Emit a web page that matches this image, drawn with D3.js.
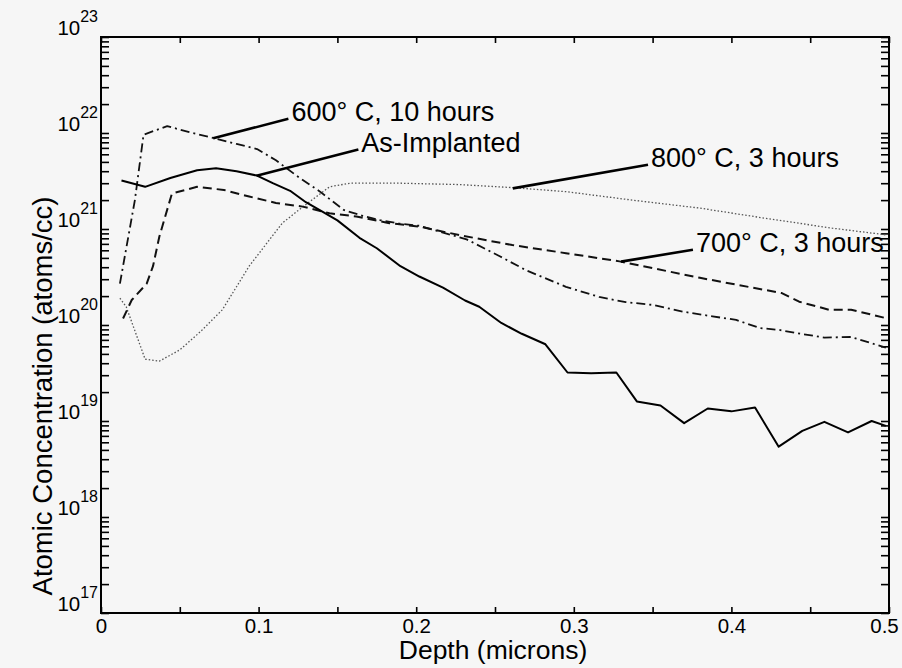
<!DOCTYPE html>
<html>
<head>
<meta charset="utf-8">
<script src="https://cdn.jsdelivr.net/npm/d3@7"></script>
<style>
	body { margin: 0; background: #f6f6f6; }
	svg { display: block; font-family: "Liberation Sans", Arial, sans-serif; }
</style>
</head>
<body>
<svg id="chart" width="902" height="668"></svg>
<script>
// depth in microns, concentration in atoms/cc
var asImplantedDepth = [0.013, 0.028, 0.044, 0.061, 0.073, 0.086, 0.099, 0.109, 0.120, 0.130, 0.141, 0.150, 0.164, 0.175, 0.190, 0.202, 0.217, 0.231, 0.240, 0.254, 0.267, 0.282, 0.296, 0.311, 0.327, 0.340, 0.355, 0.370, 0.385, 0.400, 0.415, 0.430, 0.445, 0.459, 0.474, 0.489, 0.498];
var asImplantedConc = [3.2e21, 2.75e21, 3.4e21, 4.1e21, 4.3e21, 4.0e21, 3.6e21, 3.0e21, 2.5e21, 1.9e21, 1.5e21, 1.23e21, 8.1e20, 6.3e20, 4.1e20, 3.2e20, 2.45e20, 1.8e20, 1.55e20, 1.05e20, 8.1e19, 6.3e19, 3.2e19, 3.15e19, 3.2e19, 1.6e19, 1.45e19, 9.5e18, 1.35e19, 1.26e19, 1.38e19, 5.4e18, 7.9e18, 9.8e18, 7.6e18, 1.0e19, 8.9e18];

var c600Depth = [0.012, 0.0215, 0.027, 0.042, 0.056, 0.071, 0.086, 0.099, 0.111, 0.124, 0.139, 0.154, 0.166, 0.177, 0.189, 0.202, 0.232, 0.253, 0.270, 0.295, 0.316, 0.333, 0.350, 0.369, 0.388, 0.403, 0.418, 0.430, 0.442, 0.459, 0.476, 0.498];
var c600Conc = [2.7e20, 2.0e21, 9.6e21, 1.18e22, 1.02e22, 8.9e21, 7.7e21, 6.8e21, 5.2e21, 3.6e21, 2.45e21, 1.58e21, 1.37e21, 1.24e21, 1.14e21, 1.08e21, 7.8e20, 5.2e20, 3.7e20, 2.5e20, 1.96e20, 1.73e20, 1.62e20, 1.38e20, 1.23e20, 1.13e20, 9.3e19, 8.9e19, 8.2e19, 7.4e19, 7.5e19, 5.8e19];

var c700Depth = [0.014, 0.0195, 0.029, 0.033, 0.037, 0.045, 0.061, 0.078, 0.094, 0.111, 0.128, 0.145, 0.162, 0.183, 0.202, 0.228, 0.261, 0.295, 0.329, 0.380, 0.432, 0.443, 0.462, 0.476, 0.498];
var c700Conc = [1.17e20, 1.82e20, 2.7e20, 4.1e20, 8.3e20, 2.34e21, 2.75e21, 2.55e21, 2.18e21, 1.87e21, 1.71e21, 1.46e21, 1.35e21, 1.15e21, 1.06e21, 8.6e20, 6.8e20, 5.6e20, 4.6e20, 3.1e20, 2.15e20, 1.75e20, 1.44e20, 1.44e20, 1.18e20];

var c800Depth = [0.012, 0.016, 0.028, 0.037, 0.050, 0.063, 0.077, 0.094, 0.115, 0.128, 0.145, 0.158, 0.190, 0.228, 0.261, 0.295, 0.337, 0.380, 0.422, 0.464, 0.498];
var c800Conc = [1.9e20, 1.55e20, 4.4e19, 4.2e19, 5.5e19, 8.5e19, 1.44e20, 4.1e20, 1.15e21, 1.7e21, 2.75e21, 3.0e21, 3.0e21, 2.9e21, 2.7e21, 2.45e21, 2.0e21, 1.65e21, 1.29e21, 1.02e21, 8.7e20];

// curve labels: where the leader touches the curve and where the text sits
var annotLabels = ['600\u00b0 C, 10 hours', 'As-Implanted', '800\u00b0 C, 3 hours', '700\u00b0 C, 3 hours'];
var annotPointDepth = [0.0712, 0.0987, 0.2613, 0.330];
var annotPointConc = [8.8e21, 3.59e21, 2.65e21, 4.57e20];
var annotTextDepth = [0.1208, 0.1652, 0.349, 0.3775];
var annotTextConc = [1.34e22, 6.4e21, 4.46e21, 5.8e20];

var xTickValues = [0, 0.05, 0.1, 0.15, 0.2, 0.25, 0.3, 0.35, 0.4, 0.45, 0.5];
var xTickLabels = {0: '0', 0.1: '0.1', 0.2: '0.2', 0.3: '0.3', 0.4: '0.4', 0.5: '0.5'};

var plot = { left: 101, right: 889, top: 37, bottom: 613 };

var x = d3.scaleLinear().domain([0, 0.5]).range([plot.left, plot.right]);
var y = d3.scaleLog().domain([1e17, 1e23]).range([plot.bottom, plot.top]);

var svg = d3.select('#chart');

// every log tick 1..9 in each decade
var yTickValues = [];
for (var e=17; e<23; e++) {
	for (var m=1; m<10; m++) yTickValues.push(m * Math.pow(10, e));
}
yTickValues.push(1e23);

function styleAxis(g) {
	g.select('.domain').remove();
	g.selectAll('line').attr('stroke', '#000').attr('stroke-width', 1.6);
}

svg.append('g')
	.attr('transform', 'translate(0,' + plot.bottom + ')')
	.call(d3.axisBottom(x).tickValues(xTickValues).tickSize(-6).tickPadding(5)
		.tickFormat(function(d) { return xTickLabels[d] || ''; }))
	.call(styleAxis)
	.selectAll('text')
		.attr('font-size', 20.5).attr('fill', '#000')
		.attr('dx', function(d) { return d === 0.5 ? -5 : 0; }); // keep last label inside the page

svg.append('g')
	.attr('transform', 'translate(0,' + plot.top + ')')
	.call(d3.axisTop(x).tickValues(xTickValues).tickSize(-6).tickFormat(''))
	.call(styleAxis);

svg.append('g')
	.attr('transform', 'translate(' + plot.right + ',0)')
	.call(d3.axisRight(y).tickValues(yTickValues).tickSize(-8).tickFormat(''))
	.call(styleAxis);

var left = svg.append('g')
	.attr('transform', 'translate(' + plot.left + ',0)')
	.call(d3.axisLeft(y).tickValues(yTickValues).tickSize(-8).tickPadding(3)
		.tickFormat(function(d) {
			var e = Math.round(Math.log10(d));
			return Math.abs(d - Math.pow(10, e)) < 1e-6 * d ? String(e) : '';
		}))
	.call(styleAxis);

left.selectAll('text').each(function() {
	var t = d3.select(this);
	var e = t.text();
	if (!e) return;
	t.text('').attr('dy', '-0.1em').attr('font-size', 20.5).attr('fill', '#000');
	t.append('tspan').text('10');
	t.append('tspan').attr('dy', -13).attr('font-size', 16).text(e);
});

// plot box
svg.append('rect')
	.attr('x', plot.left).attr('y', plot.top)
	.attr('width', plot.right - plot.left).attr('height', plot.bottom - plot.top)
	.attr('fill', 'none').attr('stroke', '#000').attr('stroke-width', 2);

var series = [
	{ depth: c800Depth, conc: c800Conc, dash: '1.5,2', width: 1.3, color: '#555' },
	{ depth: c700Depth, conc: c700Conc, dash: '9,5', width: 2, color: '#111' },
	{ depth: c600Depth, conc: c600Conc, dash: '9,4,2,4', width: 1.8, color: '#111' },
	{ depth: asImplantedDepth, conc: asImplantedConc, dash: null, width: 2, color: '#000' }
];

var line = d3.line()
	.x(function(d) { return x(d[0]); })
	.y(function(d) { return y(d[1]); });

series.forEach(function(s) {
	var pts = s.depth.map(function(dp, i) { return [dp, s.conc[i]]; });
	svg.append('path')
		.attr('d', line(pts))
		.attr('fill', 'none')
		.attr('stroke', s.color)
		.attr('stroke-width', s.width)
		.attr('stroke-dasharray', s.dash)
		.attr('stroke-linejoin', 'round');
});

// labels with leader lines
annotLabels.forEach(function(label, i) {
	var tx = x(annotTextDepth[i]), ty = y(annotTextConc[i]);
	svg.append('line')
		.attr('x1', x(annotPointDepth[i])).attr('y1', y(annotPointConc[i]))
		.attr('x2', tx - 3).attr('y2', ty - 2)
		.attr('stroke', '#000').attr('stroke-width', 2.6);
	svg.append('text')
		.attr('x', tx).attr('y', ty)
		.attr('font-size', 27)
		.text(label);
});

svg.append('text')
	.attr('x', (plot.left + plot.right) / 2 - 2).attr('y', 659)
	.attr('text-anchor', 'middle').attr('font-size', 26.5)
	.text('Depth (microns)');

svg.append('text')
	.attr('transform', 'translate(52,396) rotate(-90)')
	.attr('text-anchor', 'middle').attr('font-size', 27.5)
	.text('Atomic Concentration (atoms/cc)');
</script>
</body>
</html>
